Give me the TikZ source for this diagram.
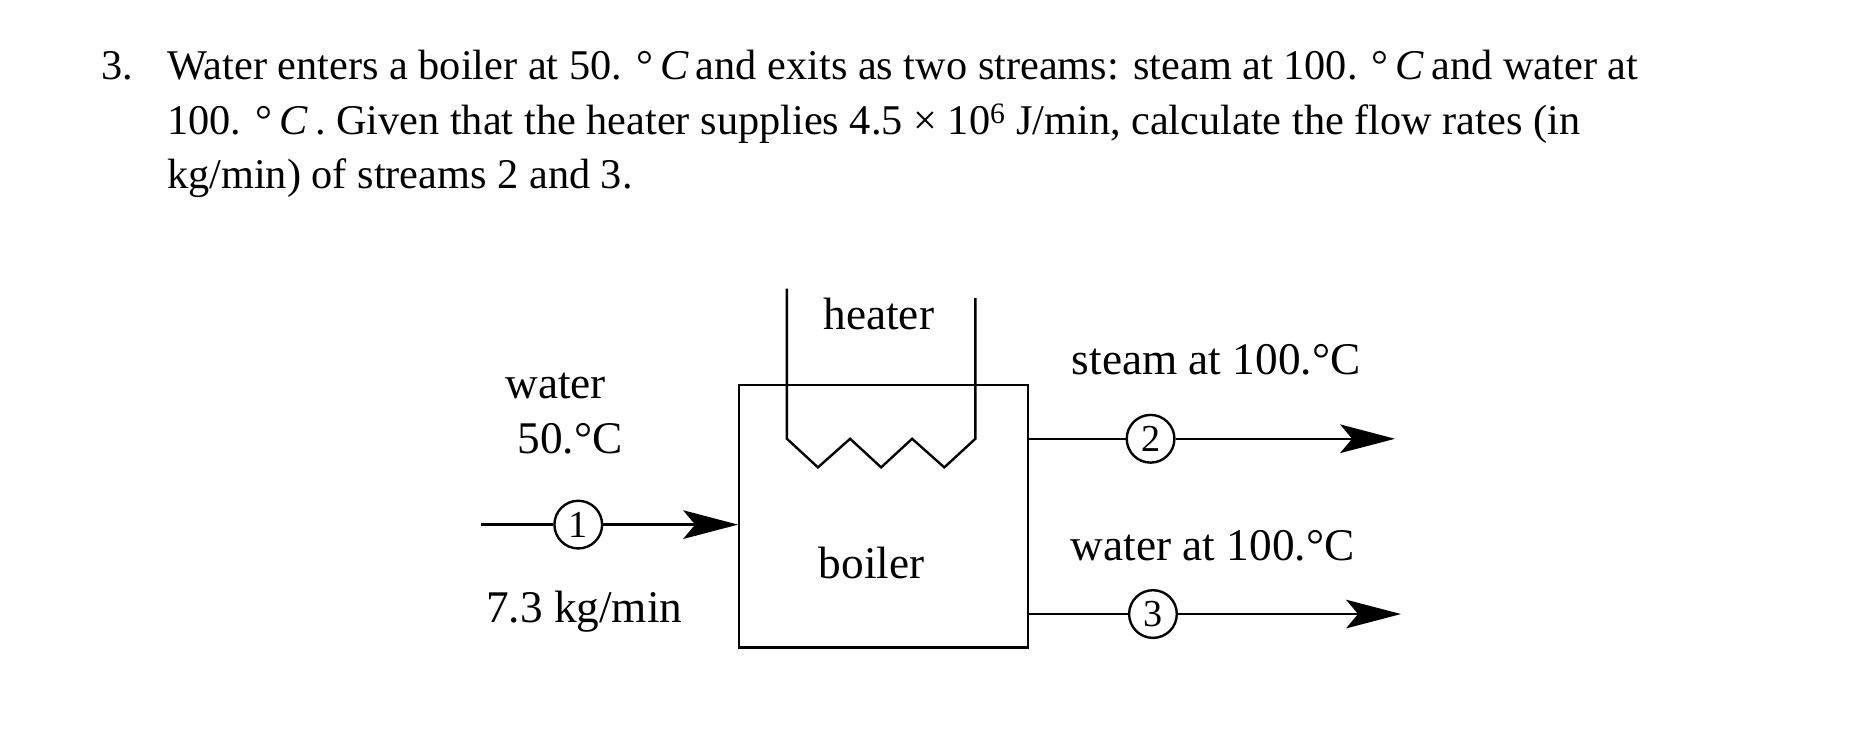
\documentclass[tikz,border=0pt]{standalone}
\usepackage{fontspec}
\setmainfont{Liberation Serif}
\usetikzlibrary{arrows.meta}
\tikzset{
  lbl/.style={font=\fontsize{38}{42}\selectfont, inner sep=0pt},
  body/.style={font=\fontsize{35.5}{45.5}\selectfont, inner sep=0pt, anchor=base west},
  strm/.style={circle, draw, line width=2pt, minimum size=40pt, inner sep=0pt, font=\fontsize{32}{34}\selectfont},
  ln/.style={line width=2pt},
  arr/.style={ln, -{Stealth[length=46pt,width=24pt,inset=10pt]}}
}
\newcommand{\degC}{\,\,°\,\textit{C}\,}
\begin{document}
\begin{tikzpicture}[x=1pt,y=-1pt]
\useasboundingbox (0,0) rectangle (1560,629);
\node[body] (num) at (85,67) {3.};
\node[body] (l1) at (140,67) {Water enters a boiler at 50.\degC and exits as two streams: steam at 100.\degC and water at};
\node[body] (l2) at (140,113) {100.\degC. Given that the heater supplies 4.5 × 10\textsuperscript{6} J/min, calculate the flow rates (in};
\node[body] (l3) at (140,158) {kg/min) of streams 2 and 3.};
% boiler
\draw[ln] (620,323) rectangle (862,543);
% heater
\draw[ln] (660,242) -- (660,368) -- (686,392) -- (713,368) -- (739,392) -- (765,368) -- (792,392) -- (818,368) -- (818,250);
\node[lbl] (heater) at (737,263) {heater};
\node[lbl] (boiler) at (731,472) {boiler};
% stream 1
\coordinate (s1) at (403,440);
\node[strm] (c1) at (485,440) {1};
\coordinate (e1) at (619,440);
\draw[ln] (s1) -- (c1);
\draw[arr] (c1) -- (e1);
\node[lbl] (w1) at (466,324) {water};
\node[lbl] (t1) at (478,368) {50.°C};
\node[lbl] (f1) at (490,513) {7.3 kg/min};
% stream 2
\coordinate (s2) at (862,368);
\node[strm] (c2) at (965,368) {2};
\coordinate (e2) at (1170,368);
\draw[ln] (s2) -- (c2);
\draw[arr] (c2) -- (e2);
\node[lbl] (l2lbl) at (1020,302) {steam at 100.°C};
% stream 3
\coordinate (s3) at (862,515);
\node[strm] (c3) at (967,515) {3};
\coordinate (e3) at (1175,515);
\draw[ln] (s3) -- (c3);
\draw[arr] (c3) -- (e3);
\node[lbl] (l3lbl) at (1017,458) {water at 100.°C};
\end{tikzpicture}
\end{document}
